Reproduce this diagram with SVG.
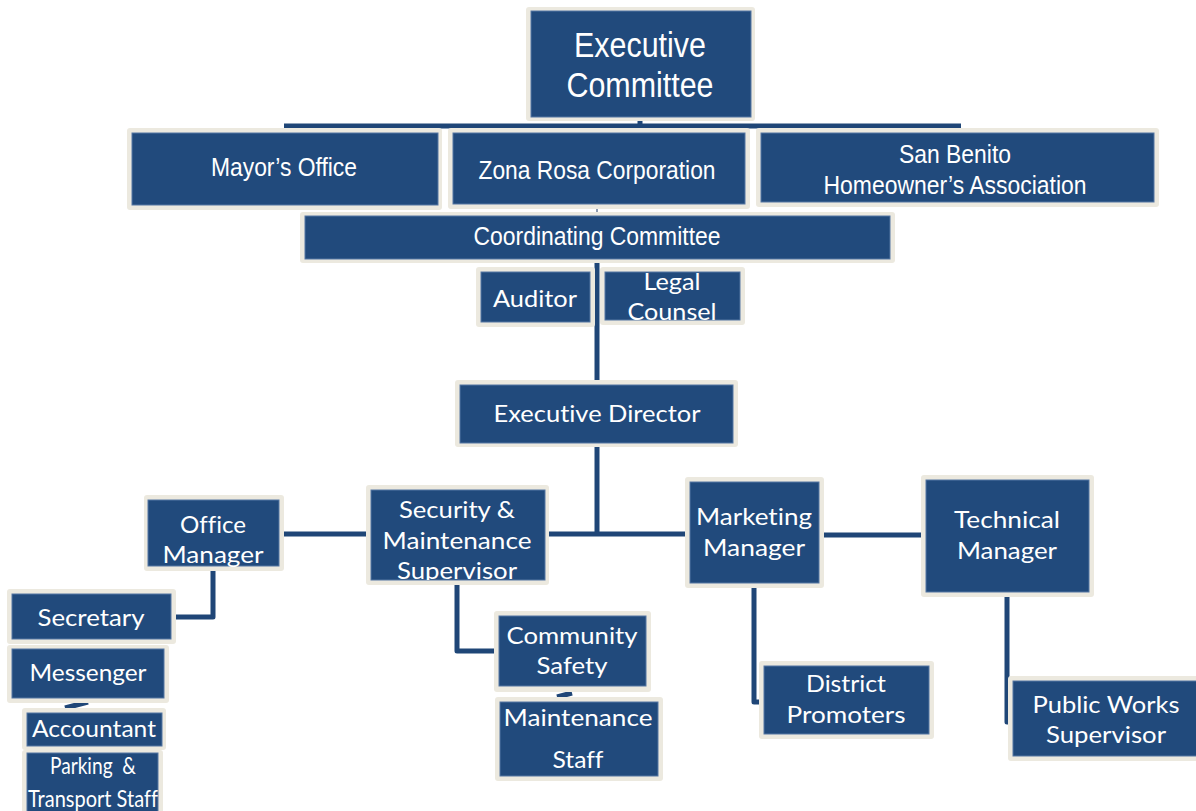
<svg xmlns="http://www.w3.org/2000/svg" width="1196" height="811" viewBox="0 0 1196 811">
  <style>
    .frame { fill: #ece9df; }
    .box { fill: #214a7c; stroke: #5577a3; stroke-width: 1; }
    .wire { fill: none; stroke: #1f4677; stroke-width: 5; stroke-linejoin: round; }
    .thin { fill: none; stroke: #8d9bb0; stroke-width: 2; }
    .a { font-family: "Liberation Sans", Arial, sans-serif; fill: #ffffff; text-anchor: middle; }
    .c { font-family: Lato, "Open Sans", sans-serif; fill: #ffffff; text-anchor: middle; font-size: 24px; font-variant-ligatures: none; }
  </style>
  <defs>
    <clipPath id="clipLegal"><rect x="605" y="272" width="135" height="48"/></clipPath>
    <clipPath id="clipSec"><rect x="371" y="490" width="174" height="90"/></clipPath>
  </defs>

  <rect width="1196" height="811" fill="#ffffff"/>

  <!-- connectors -->
  <g id="connectors">
    <path class="wire" d="M284 126 H961"/>
    <path class="wire" d="M640 120 V126"/>
    <path class="thin" d="M597 209 V214"/>
    <path class="wire" d="M597 263 V381"/>
    <path class="wire" d="M597 447 V534"/>
    <path class="wire" d="M283 534 H367"/>
    <path class="wire" d="M548 534 H686"/>
    <path class="wire" d="M823 535 H922"/>
    <path class="wire" d="M213 570 V617 H175"/>
    <path class="wire" d="M457 585 V651 H495"/>
    <path class="wire" d="M754 588 V702 H760"/>
    <path class="wire" d="M1007 596 V722 H1010"/>
    <path class="wire" d="M65 708 L88 702" stroke-width="4"/>
    <path class="wire" d="M557 697 L572 693" stroke-width="4"/>
  </g>

  <!-- governance tier -->
  <g id="executive-committee">
    <rect class="frame" x="526" y="7" width="229" height="114" rx="3"/>
    <rect class="box" x="531" y="11" width="220" height="106"/>
    <text class="a" x="640" y="57" font-size="35" textLength="132" lengthAdjust="spacingAndGlyphs">Executive</text>
    <text class="a" x="640" y="97" font-size="35" textLength="147" lengthAdjust="spacingAndGlyphs">Committee</text>
  </g>

  <g id="mayors-office">
    <rect class="frame" x="127" y="128" width="315" height="82" rx="3"/>
    <rect class="box" x="132" y="133" width="306" height="72"/>
    <text class="a" x="284" y="176" font-size="26" textLength="146" lengthAdjust="spacingAndGlyphs">Mayor’s Office</text>
  </g>

  <g id="zona-rosa">
    <rect class="frame" x="448" y="128" width="302" height="81" rx="3"/>
    <rect class="box" x="453" y="133" width="292" height="71"/>
    <text class="a" x="597" y="179" font-size="26" textLength="237" lengthAdjust="spacingAndGlyphs">Zona Rosa Corporation</text>
  </g>

  <g id="san-benito">
    <rect class="frame" x="756" y="128" width="403" height="79" rx="3"/>
    <rect class="box" x="761" y="133" width="393" height="69"/>
    <text class="a" x="955" y="163" font-size="26" textLength="112" lengthAdjust="spacingAndGlyphs">San Benito</text>
    <text class="a" x="955" y="194" font-size="26" textLength="263" lengthAdjust="spacingAndGlyphs">Homeowner’s Association</text>
  </g>

  <g id="coordinating-committee">
    <rect class="frame" x="300" y="212" width="595" height="51" rx="3"/>
    <rect class="box" x="305" y="216" width="585" height="43"/>
    <text class="a" x="597" y="245" font-size="26" textLength="247" lengthAdjust="spacingAndGlyphs">Coordinating Committee</text>
  </g>

  <g id="auditor">
    <rect class="frame" x="476" y="267" width="119" height="60" rx="3"/>
    <rect class="box" x="481" y="272" width="109" height="50"/>
    <text class="c" x="535" y="307" textLength="84" lengthAdjust="spacingAndGlyphs">Auditor</text>
  </g>

  <g id="legal-counsel">
    <rect class="frame" x="600" y="267" width="145" height="58" rx="3"/>
    <rect class="box" x="605" y="272" width="135" height="48"/>
    <g clip-path="url(#clipLegal)">
      <text class="c" x="672" y="290" textLength="57" lengthAdjust="spacingAndGlyphs">Legal</text>
      <text class="c" x="672" y="320" textLength="89" lengthAdjust="spacingAndGlyphs">Counsel</text>
    </g>
  </g>

  <!-- management tier -->
  <g id="executive-director">
    <rect class="frame" x="455" y="380" width="283" height="67" rx="3"/>
    <rect class="box" x="460" y="385" width="273" height="58"/>
    <text class="c" x="597" y="422" textLength="207" lengthAdjust="spacingAndGlyphs">Executive Director</text>
  </g>

  <g id="office-manager">
    <rect class="frame" x="144" y="495" width="140" height="76" rx="3"/>
    <rect class="box" x="148" y="500" width="131" height="66"/>
    <text class="c" x="213" y="533" textLength="66" lengthAdjust="spacingAndGlyphs">Office</text>
    <text class="c" x="213" y="563" textLength="101" lengthAdjust="spacingAndGlyphs">Manager</text>
  </g>

  <g id="security-maintenance">
    <rect class="frame" x="366" y="485" width="183" height="100" rx="3"/>
    <rect class="box" x="371" y="490" width="174" height="90"/>
    <g clip-path="url(#clipSec)">
      <text class="c" x="457" y="518" textLength="116" lengthAdjust="spacingAndGlyphs">Security &amp;</text>
      <text class="c" x="457" y="549" textLength="149" lengthAdjust="spacingAndGlyphs">Maintenance</text>
      <text class="c" x="457" y="579" textLength="120" lengthAdjust="spacingAndGlyphs">Supervisor</text>
    </g>
  </g>

  <g id="marketing-manager">
    <rect class="frame" x="685" y="477" width="139" height="111" rx="3"/>
    <rect class="box" x="690" y="482" width="129" height="101"/>
    <text class="c" x="754" y="525" textLength="116" lengthAdjust="spacingAndGlyphs">Marketing</text>
    <text class="c" x="754" y="556" textLength="102" lengthAdjust="spacingAndGlyphs">Manager</text>
  </g>

  <g id="technical-manager">
    <rect class="frame" x="921" y="475" width="173" height="122" rx="3"/>
    <rect class="box" x="926" y="480" width="163" height="112"/>
    <text class="c" x="1007" y="528" textLength="106" lengthAdjust="spacingAndGlyphs">Technical</text>
    <text class="c" x="1007" y="559" textLength="100" lengthAdjust="spacingAndGlyphs">Manager</text>
  </g>

  <!-- staff tier -->
  <g id="secretary">
    <rect class="frame" x="7" y="589" width="169" height="55" rx="3"/>
    <rect class="box" x="12" y="594" width="159" height="45"/>
    <text class="c" x="91" y="626" textLength="107" lengthAdjust="spacingAndGlyphs">Secretary</text>
  </g>

  <g id="messenger">
    <rect class="frame" x="7" y="645" width="162" height="58" rx="3"/>
    <rect class="box" x="12" y="649" width="152" height="49"/>
    <text class="c" x="88" y="681" textLength="117" lengthAdjust="spacingAndGlyphs">Messenger</text>
  </g>

  <g id="accountant">
    <rect class="frame" x="22" y="708" width="144" height="42" rx="3"/>
    <rect class="box" x="27" y="713" width="135" height="33"/>
    <text class="c" x="94" y="737" textLength="124" lengthAdjust="spacingAndGlyphs">Accountant</text>
  </g>

  <g id="parking-transport">
    <rect class="frame" x="22" y="750" width="141" height="66" rx="3"/>
    <rect class="box" x="27" y="753" width="131" height="63"/>
    <text class="c" x="93" y="774" font-size="18" textLength="86" lengthAdjust="spacingAndGlyphs" xml:space="preserve">Parking  &amp;</text>
    <text class="c" x="93" y="807" font-size="18" textLength="130" lengthAdjust="spacingAndGlyphs">Transport Staff</text>
  </g>

  <g id="community-safety">
    <rect class="frame" x="494" y="611" width="157" height="81" rx="3"/>
    <rect class="box" x="499" y="616" width="147" height="70"/>
    <text class="c" x="572" y="644" textLength="131" lengthAdjust="spacingAndGlyphs">Community</text>
    <text class="c" x="572" y="674" textLength="71" lengthAdjust="spacingAndGlyphs">Safety</text>
  </g>

  <g id="maintenance-staff">
    <rect class="frame" x="495" y="697" width="168" height="84" rx="3"/>
    <rect class="box" x="500" y="702" width="158" height="74"/>
    <text class="c" x="578" y="726" textLength="149" lengthAdjust="spacingAndGlyphs">Maintenance</text>
    <text class="c" x="578" y="768" textLength="51" lengthAdjust="spacingAndGlyphs">Staff</text>
  </g>

  <g id="district-promoters">
    <rect class="frame" x="759" y="661" width="175" height="78" rx="3"/>
    <rect class="box" x="764" y="666" width="165" height="68"/>
    <text class="c" x="846" y="692" textLength="80" lengthAdjust="spacingAndGlyphs">District</text>
    <text class="c" x="846" y="723" textLength="119" lengthAdjust="spacingAndGlyphs">Promoters</text>
  </g>

  <g id="public-works">
    <rect class="frame" x="1008" y="676" width="195" height="85" rx="3"/>
    <rect class="box" x="1013" y="681" width="190" height="75"/>
    <text class="c" x="1106" y="713" textLength="147" lengthAdjust="spacingAndGlyphs">Public Works</text>
    <text class="c" x="1106" y="743" textLength="120" lengthAdjust="spacingAndGlyphs">Supervisor</text>
  </g>
</svg>
